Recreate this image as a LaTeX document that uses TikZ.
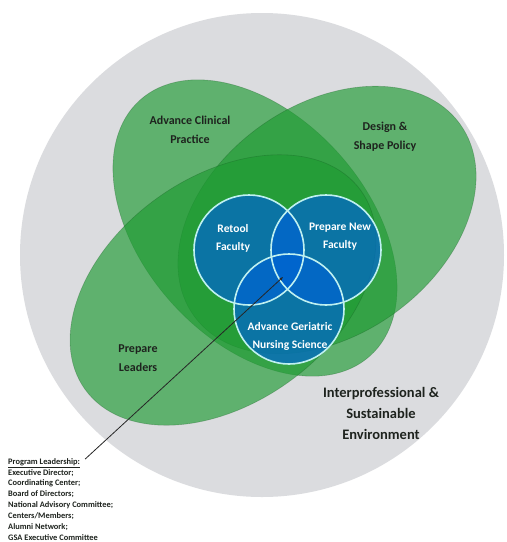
\documentclass[tikz,border=0pt]{standalone}
\usepackage{fontspec}
\setmainfont{Carlito}
\usetikzlibrary{arrows.meta}
\definecolor{bggray}{RGB}{219,220,223}
\definecolor{vgreen}{RGB}{30,155,50}
\definecolor{vblue}{RGB}{0,100,210}
\definecolor{ringc}{RGB}{190,240,240}
\definecolor{txtdark}{RGB}{30,35,30}
\tikzset{
  leaf/.style={fill=vgreen, fill opacity=0.65, draw=vgreen!55!black, draw opacity=0.3, line width=0.6pt},
  core/.style={fill=vblue, fill opacity=0.7},
  ringline/.style={draw=ringc, line width=1.6pt},
  glabel/.style={font=\bfseries\fontsize{12}{19}\selectfont, text=txtdark, align=center, inner sep=0pt},
  blabel/.style={font=\bfseries\fontsize{11.5}{18}\selectfont, text=white, align=center, inner sep=0pt},
  envlabel/.style={font=\bfseries\fontsize{14.5}{21}\selectfont, text=txtdark, align=center, inner sep=0pt},
  plist/.style={font=\bfseries\fontsize{8.4}{10.86}\selectfont, text=txtdark, align=left, inner sep=0pt},
  leader/.style={draw=black!85, line width=0.8pt, -{Stealth[length=4pt,width=3pt]}}
}
\begin{document}
\begin{tikzpicture}[x=1pt,y=-1pt]
\useasboundingbox (0,0) rectangle (507,542);
\fill[white] (0,0) rectangle (507,542);
% environment
\fill[bggray] (262,255) circle[radius=242];
% green ellipses
\path[leaf, rotate around={-48:(255,228)}] (255,228) ellipse[x radius=172, y radius=112];
\path[leaf, rotate around={35.8:(327,220)}] (327,220) ellipse[x radius=164, y radius=115];
\path[leaf, rotate around={35.8:(223,290)}] (223,290) ellipse[x radius=170, y radius=113];
% blue circles
\coordinate (cr) at (249,250);
\coordinate (cp) at (326,250);
\coordinate (ca) at (289,309);
\fill[core] (cr) circle[radius=55];
\fill[core] (cp) circle[radius=55];
\fill[core] (ca) circle[radius=55];
\draw[ringline] (cr) circle[radius=55];
\draw[ringline] (cp) circle[radius=55];
\draw[ringline] (ca) circle[radius=55];
% labels
\node[glabel] (acp) at (190,130) {Advance Clinical\\Practice};
\node[glabel] (dsp) at (385,137) {Design \&\\Shape Policy};
\node[glabel] (pl) at (138,358) {Prepare\\Leaders};
\node[blabel] (rf) at (233,238) {Retool\\Faculty};
\node[blabel] (pnf) at (340,237) {Prepare New\\Faculty};
\node[blabel] (agns) at (290,336) {Advance Geriatric\\Nursing Science};
\node[envlabel] (env) at (381,413) {Interprofessional \&\\Sustainable\\Environment};
% program leadership
\node[plist, anchor=west] (ptitle) at (8,463) {\underline{Program Leadership:}};
\node[plist, anchor=north west] (plistn) at (8,469) {Executive Director;\\Coordinating Center;\\Board of Directors;\\National Advisory Committee;\\Centers/Members;\\Alumni Network;\\GSA Executive Committee};
\coordinate (hub) at (283,277);
\draw[leader] ([shift={(5,-4)}]ptitle.east) -- (hub);
\end{tikzpicture}
\end{document}
